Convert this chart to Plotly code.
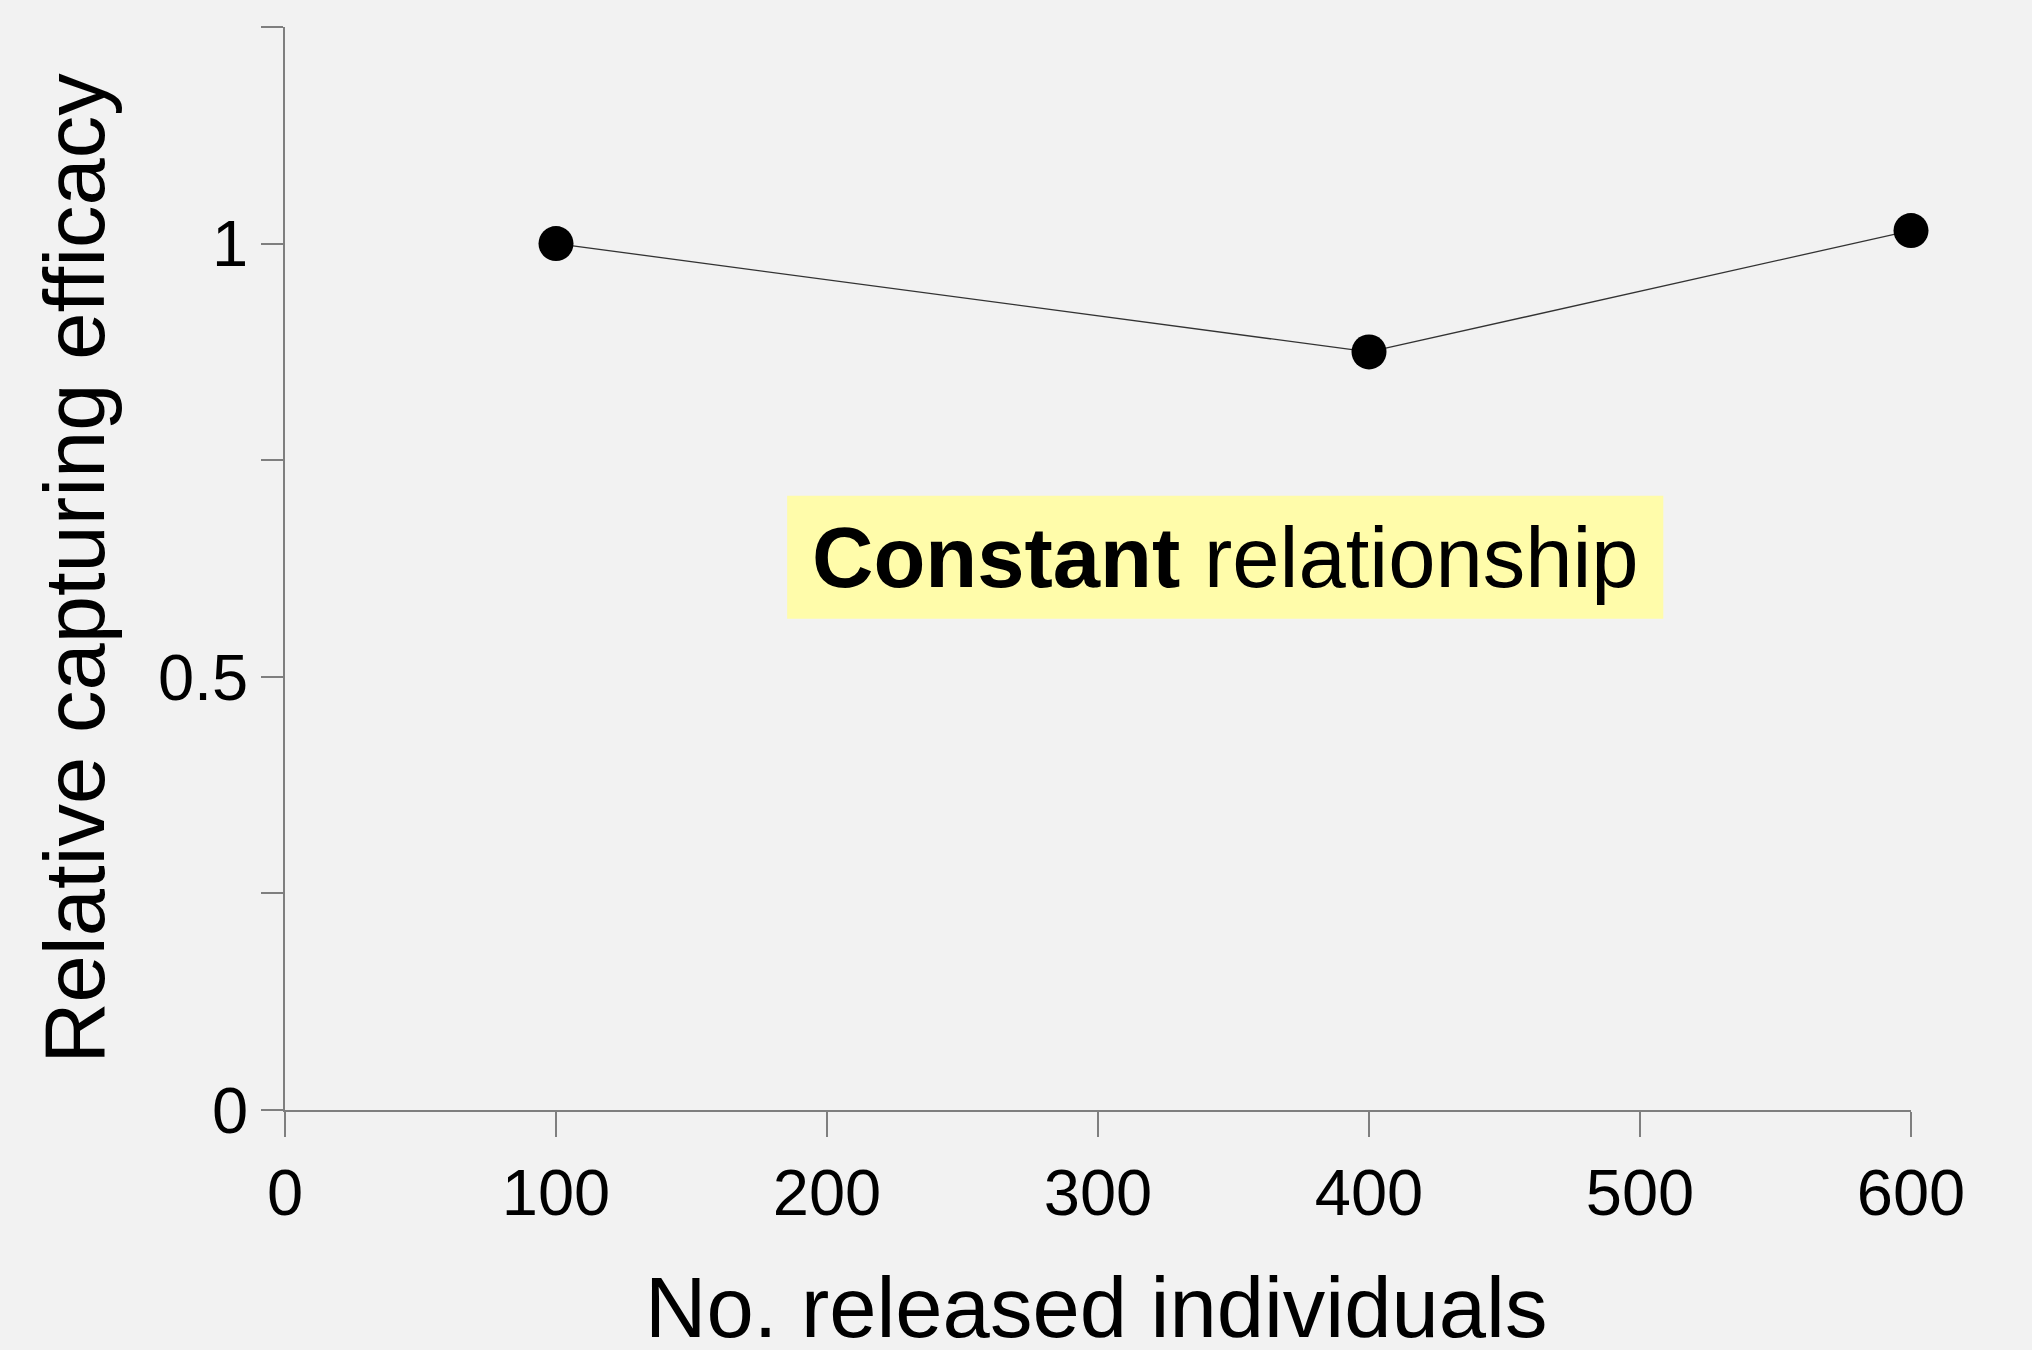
import plotly.graph_objects as go

released = [100, 400, 600]
efficacy = [1.0, 0.875, 1.015]

x_ticks = [0, 100, 200, 300, 400, 500, 600]
x_ticklabels = ["0", "100", "200", "300", "400", "500", "600"]
y_ticks = [0, 0.25, 0.5, 0.75, 1, 1.25]
y_ticklabels = ["0", "", "0.5", "", "1", ""]

FONT = "Liberation Sans, Arial, sans-serif"
BG = "#F2F2F2"
AX = "#7F7F7F"

fig = go.Figure()
fig.add_trace(go.Scatter(
    x=released, y=efficacy, mode="lines+markers",
    line=dict(color="#333333", width=1.3),
    marker=dict(color="black", size=35),
    cliponaxis=False, showlegend=False,
))

fig.add_shape(type="rect", xref="x", yref="y", x0=185.3, x1=508.6, y0=0.567, y1=0.709,
              fillcolor="#FFFCAA", line=dict(width=0), layer="below")
fig.add_annotation(x=347, y=0.638, xref="x", yref="y", showarrow=False,
                   text="<b>Constant</b> relationship",
                   font=dict(family=FONT, size=85, color="black"))
# x-axis title placed as paper annotation (reference title sits at the very bottom edge)
fig.add_annotation(x=0.4985, y=-0.1825, xref="paper", yref="paper", showarrow=False,
                   xanchor="center", yanchor="middle",
                   text="No. released individuals",
                   font=dict(family=FONT, size=85, color="black"))

fig.update_layout(
    width=2032, height=1350,
    margin=dict(l=285, r=121, t=27, b=240, autoexpand=False),
    paper_bgcolor=BG, plot_bgcolor=BG,
    font=dict(family=FONT, color="black"),
)
fig.update_xaxes(
    range=[0, 600], tickvals=x_ticks, ticktext=x_ticklabels, automargin=False,
    showgrid=False, zeroline=False, showline=True, linecolor=AX, linewidth=1.5,
    ticks="outside", ticklen=25, tickcolor=AX, tickwidth=1.5,
    tickfont=dict(size=65, family=FONT),
)
fig.update_yaxes(
    range=[0, 1.25], tickvals=y_ticks, ticktext=y_ticklabels, automargin=False,
    showgrid=False, zeroline=False, showline=True, linecolor=AX, linewidth=1.5,
    ticks="outside", ticklen=22, tickcolor=AX, tickwidth=1.5,
    tickfont=dict(size=65, family=FONT),
    title=dict(text="Relative capturing efficacy", font=dict(size=85, family=FONT), standoff=25),
)

fig.write_html(
    "out.html",
    config={"displayModeBar": False},
    post_script="document.body.style.margin='0';document.body.style.overflow='hidden';document.body.style.background='#F2F2F2';",
)
